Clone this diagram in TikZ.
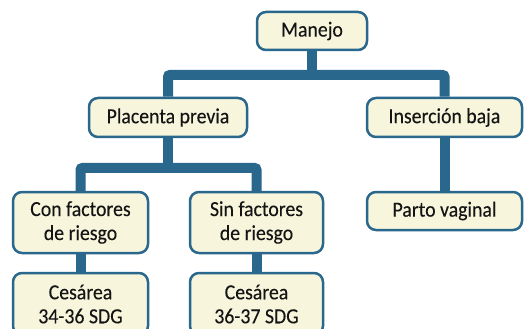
\documentclass[tikz,border=0pt]{standalone}
\usepackage{fontspec}
\setmainfont{Carlito}[FakeStretch=0.92,FakeBold=0.2]
\usetikzlibrary{backgrounds}
\definecolor{lineblue}{HTML}{2A678C}
\definecolor{boxfill}{HTML}{F7F6DD}
\begin{document}
\begin{tikzpicture}[x=1pt,y=-1pt,
  box/.style={draw=lineblue, line width=2.5pt, fill=boxfill, rounded corners=9pt,
    align=center, font=\fontsize{21.5}{24}\selectfont, inner sep=0pt, text=black!92},
  conn/.style={draw=lineblue, line width=10pt, rounded corners=2pt}]
\clip (0,0) rectangle (531,329);
\useasboundingbox (0,0) rectangle (531,329);
\node[box, minimum width=110pt, minimum height=38pt] (man) at (312,31) {Manejo};
\node[box, minimum width=158pt, minimum height=39pt] (pp) at (168,117.5) {Placenta previa};
\node[box, minimum width=155pt, minimum height=39pt] (ib) at (444.5,117.5) {Inserción baja};
\node[box, minimum width=135pt, minimum height=61pt] (con) at (80.5,222.5) {Con factores\\de riesgo};
\node[box, minimum width=133pt, minimum height=61pt] (sin) at (256.5,222.5) {Sin factores\\de riesgo};
\node[box, minimum width=155pt, minimum height=38pt] (pv) at (444.5,211) {Parto vaginal};
\node[box, minimum width=135pt, minimum height=62pt] (c1) at (80.5,304) {Cesárea\\34-36 SDG};
\node[box, minimum width=133pt, minimum height=62pt] (c2) at (256.5,304) {Cesárea\\36-37 SDG};
\coordinate (tb) at (312,75);
\coordinate (lb) at (168,168);
\begin{scope}[on background layer]
\draw[conn] (pp.north) |- (tb) -| (ib.north);
\draw[conn] (tb) -- (man.south);
\draw[conn] (con.north) |- (lb) -| (sin.north);
\draw[conn] (lb) -- (pp.south);
\draw[conn] (ib.south) -- (pv.north);
\draw[conn] (con.south) -- (c1.north);
\draw[conn] (sin.south) -- (c2.north);
\end{scope}
\end{tikzpicture}
\end{document}
